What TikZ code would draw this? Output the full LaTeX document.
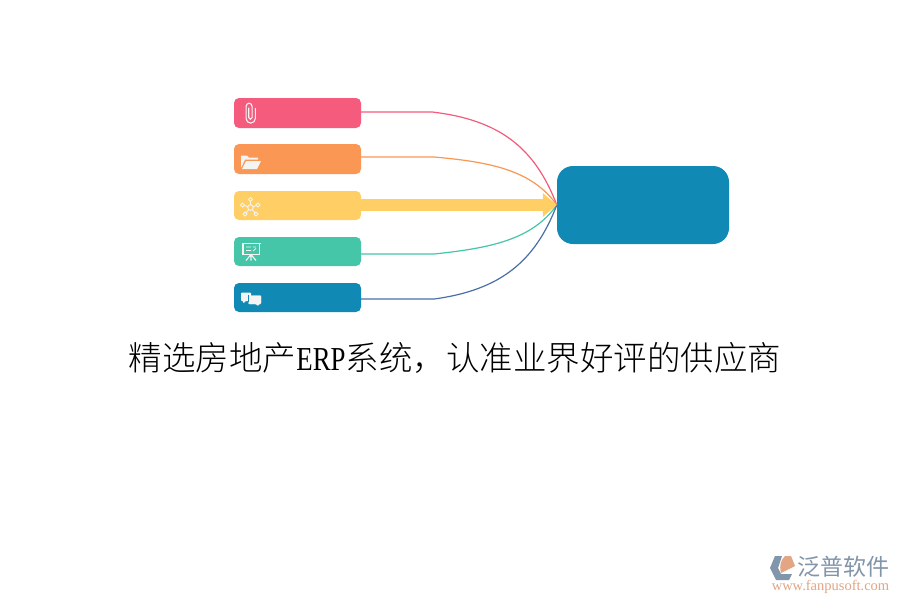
\documentclass[tikz,border=0pt]{standalone}
\usepackage{fontspec}
\setmainfont{Liberation Serif}
\newfontfamily\cjk{Noto Sans CJK SC}
\newfontfamily\cjklight{Noto Sans CJK SC Light}
\newfontfamily\erpfont[FakeStretch=0.8]{Liberation Serif}
\usetikzlibrary{arrows.meta}
\definecolor{cpink}{HTML}{F45B7D}
\definecolor{corange}{HTML}{FA9754}
\definecolor{cyellow}{HTML}{FFCF66}
\definecolor{cteal}{HTML}{45C6A9}
\definecolor{cblue}{HTML}{108AB5}
\definecolor{cnavy}{HTML}{4A6FA8}
\definecolor{cicon}{HTML}{F4F4F4}
\definecolor{lgray}{HTML}{8296AB}
\definecolor{lorange}{HTML}{E3A584}
\tikzset{
  bar/.style={rectangle,rounded corners=5pt,minimum width=127pt,inner sep=0pt,draw=none},
  link/.style={line width=1.2pt},
  ico/.style={draw=cicon,line width=1.1pt,fill=none},
  icofill/.style={fill=cicon,draw=none}
}
\begin{document}
\begin{tikzpicture}[x=1pt,y=-1pt]
\useasboundingbox (0,0) rectangle (900,600);
\fill[white] (0,0) rectangle (900,600);
\node[bar,fill=cpink,minimum height=30pt] (n1) at (297.5,113) {};
\node[bar,fill=corange,minimum height=30pt] (n2) at (297.5,159) {};
\node[bar,fill=cyellow,minimum height=29pt] (n3) at (297.5,205.5) {};
\node[bar,fill=cteal,minimum height=29pt] (n4) at (297.5,251.5) {};
\node[bar,fill=cblue,minimum height=29pt] (n5) at (297.5,297.5) {};
\node[rectangle,rounded corners=16pt,minimum width=172pt,minimum height=78pt,inner sep=0pt,fill=cblue] (hub) at (643,205) {};
% connectors
\draw[link,cpink] ([yshift=1pt]n1.east) -- ++(71,0) .. controls (500,120) and (535,148) .. (hub.west);
\draw[link,corange] ([yshift=2pt]n2.east) -- ++(73,0) .. controls (490,162) and (532,170) .. (hub.west);
\draw[link,cteal] ([yshift=-2.5pt]n4.east) -- ++(73,0) .. controls (490,248) and (532,240) .. (hub.west);
\draw[link,cnavy] ([yshift=-1.5pt]n5.east) -- ++(73,0) .. controls (500,290) and (535,262) .. (hub.west);
\draw[line width=12pt,cyellow,-{Triangle[length=14pt,width=23pt]}] ([yshift=.5pt]n3.east) -- (hub.west);
% paperclip
\draw[ico] (255.3,108) -- (255.3,118.5) arc[start angle=0,end angle=180,radius=4.6] -- (246.1,106.5) arc[start angle=180,end angle=360,x radius=3,y radius=3.3] -- (252.1,117.5) arc[start angle=0,end angle=180,radius=1.7] -- (248.7,107.5);
% folder
\fill[cicon] (241,167) -- (241,155.5) -- (247,155.5) -- (249,157.5) -- (258,157.5) -- (258,159.5) -- (245,159.5) -- (241.5,167) -- cycle;
\fill[cicon] (246,161) -- (261,161) -- (257,169) -- (242,169) -- cycle;
% network
\foreach \a/\b in {250.5/199.5,242.5/205,258/205,245/214,256/214}{\draw[draw=cicon,line width=.9pt] (250.5,207.5) -- (\a,\b);}
\foreach \a/\b in {250.5/199.5,242.5/205,258/205,245/214,256/214}{\draw[draw=cicon,line width=.9pt,fill=cyellow] (\a,\b) circle (1.9);}
\draw[draw=cicon,line width=.9pt,fill=cyellow] (250.5,207.5) circle (2.8);
% presentation board
\draw[ico] (243,243.5) rectangle (259.5,254.5);
\draw[ico] (242,243.5) -- (260.5,243.5);
\draw[ico,line width=.8pt] (246,247) -- (251,247) (246,250.5) -- (251,250.5) (253,247) -- (256,247) (253,251) -- (256,248.5);
\draw[ico] (251,254.5) -- (251,260.5) (251,254.5) -- (246,260.5) (251,254.5) -- (256,260.5);
% chat
\fill[cicon,rounded corners=.8pt] (241,292.5) -- (251,292.5) -- (251,301) -- (245.5,301) -- (243.5,303.5) -- (243,301) -- (241,301) -- cycle;
\draw[cicon,fill=cicon,rounded corners=.8pt,line width=.1pt] (248.5,295.5) -- (261,295.5) -- (261,304) -- (259,304) -- (258,306) -- (256,304) -- (248.5,304) -- cycle;
\draw[cblue,line width=.7pt] (248.2,295.2) -- (248.2,301.5);
% title
\node[anchor=center,inner sep=0pt,font=\fontsize{33.5pt}{36pt}\selectfont] (title) at (455,357.5) {{\cjklight 精选房地产}{\erpfont ERP}{\cjklight 系统，认准业界好评的供应商}};
% logo
\fill[lgray] (782,556) -- (775,556) -- (770,568) -- (776,580) -- (789,580) -- (792,574) -- (781,574) -- (778,568) -- cycle;
\fill[lorange] (785,556) -- (791,556) -- (795,566) -- (787,570) -- (781,573) .. controls (779,565) and (781,560) .. (785,556) -- cycle;
\node[anchor=center,inner sep=0pt,text=lgray,font=\cjk\fontsize{23pt}{24pt}\selectfont] (brand) at (843,567) {泛普软件};
\node[anchor=center,inner sep=0pt,text=lorange,font=\fontsize{14.5pt}{16pt}\selectfont] (url) at (830.5,587) {www.fanpusoft.com};
\end{tikzpicture}
\end{document}
